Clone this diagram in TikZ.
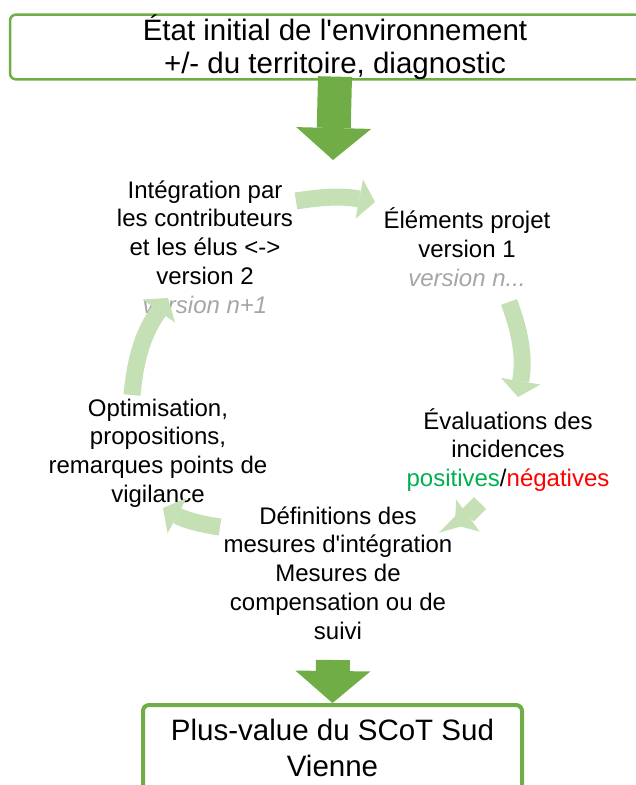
\documentclass[tikz,border=0pt]{standalone}
\usepackage{fontspec}
\setmainfont{Liberation Sans}[Ligatures=TeXOff]
\usepackage{tikz}
\usetikzlibrary{arrows.meta,calc}
\definecolor{framegreen}{HTML}{70AD47}
\definecolor{cyclegreen}{HTML}{C5E0B4}
\definecolor{posgreen}{HTML}{00B050}
\definecolor{latergrey}{HTML}{A6A6A6}
\tikzstyle{cyc>}=[draw=cyclegreen, line width=17pt, -{Triangle[length=16pt,width=40pt,line width=0pt]}]
\tikzstyle{big>}=[draw=framegreen, line width=34pt, -{Triangle[length=32pt,width=75pt,line width=0pt]}]
\tikzstyle{stage}=[align=center, inner sep=0pt, font=\fontsize{24}{28.8}\selectfont]
\tikzstyle{frame}=[draw=framegreen, rounded corners=6pt, align=center, inner sep=0pt]
\newcommand{\later}[1]{{\color{latergrey}\itshape #1}}

\begin{document}
\begin{tikzpicture}[x=1pt,y=-1pt]
\useasboundingbox (0,0) rectangle (635,785);
% boxes
\node[frame, line width=2.5pt, minimum width=650pt, minimum height=64pt, font=\fontsize{29.5}{33}\selectfont] (etat) at (335,47) {État initial de l'environnement\\+/- du territoire, diagnostic};
\node[frame, line width=4pt, minimum width=379pt, minimum height=86pt, font=\fontsize{29.5}{36}\selectfont] (plus) at (332.5,748) {Plus-value du SCoT Sud\\Vienne};
% cycle
\node[stage] (integ) at (205,247) {Intégration par\\les contributeurs\\et les élus <->\\version 2\\\later{version n+1}};
\node[stage] (elem) at (467,247) {Éléments projet\\version 1\\\later{version n...}};
\node[stage] (eval) at (508,450) {Évaluations des\\incidences\\{\color{posgreen}positives}/{\color{red}négatives}};
\node[stage] (defin) at (338,573) {Définitions des\\mesures d'intégration\\Mesures de\\compensation ou de\\suivi};
\node[stage] (optim) at (158,453) {Optimisation,\\propositions,\\remarques points de\\vigilance};
% arrows of the cycle
\coordinate (c1a) at (296,201);
\coordinate (c1b) at (375,202);
\coordinate (c2a) at (509,302);
\coordinate (c2b) at (518,397);
\coordinate (c3a) at (480,503);
\coordinate (c3b) at (455,525);
\coordinate (c4a) at (220,527);
\coordinate (c4b) at (163,508);
\coordinate (c5a) at (132,395);
\coordinate (c5b) at (168,298);
\foreach \a/\b/\bend in {c1a/c1b/10, c2a/c2b/15, c3a/c3b/5, c4a/c4b/10, c5a/c5b/15}
	\draw[cyc>, bend left=\bend] (\a) to (\b);
% in and out
\coordinate (tip1) at (333,160);
\coordinate (tail2) at (333,660);
\draw[big>] ([yshift=4pt]etat.south) -- (tip1);
\draw[big>] (tail2) -- (plus.north);
\end{tikzpicture}
\end{document}
